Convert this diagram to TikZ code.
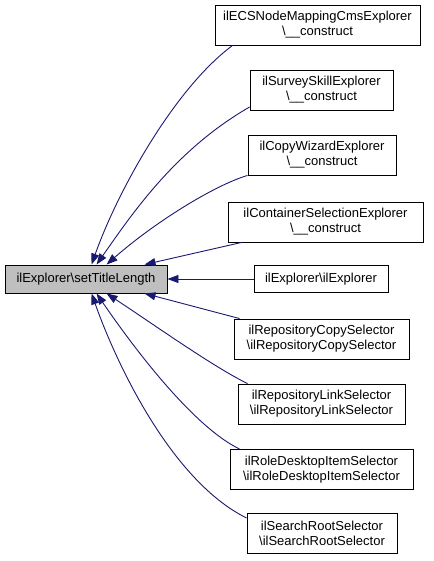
\documentclass[tikz,border=0pt]{standalone}
\usepackage{fontspec}
\setmainfont{Liberation Sans}
\usetikzlibrary{arrows.meta}
\definecolor{edgeblue}{HTML}{191970}
\definecolor{mainfill}{HTML}{BFBFBF}
\begin{document}
\begin{tikzpicture}[x=1pt,y=-1pt,
  box/.style={draw=black,line width=0.9pt,fill=white,inner sep=0pt,align=center,
    font=\fontsize{13}{15}\selectfont,minimum height=40pt},
  mainbox/.style={box,fill=mainfill,minimum height=28pt},
  edge/.style={draw=edgeblue,line width=0.9pt,-{Triangle[length=11pt,width=8pt]}}
]
\useasboundingbox (0,0) rectangle (433,561);

\node[mainbox,minimum width=162pt] (main) at (86,279) {ilExplorer\textbackslash setTitleLength};

\node[box,minimum width=205pt] (b1) at (317.5,25) {ilECSNodeMappingCmsExplorer\\\textbackslash\_\_construct};
\node[box,minimum width=143pt] (b2) at (321.5,90) {ilSurveySkillExplorer\\\textbackslash\_\_construct};
\node[box,minimum width=148pt] (b3) at (322,155) {ilCopyWizardExplorer\\\textbackslash\_\_construct};
\node[box,minimum width=195pt] (b4) at (325.5,222) {ilContainerSelectionExplorer\\\textbackslash\_\_construct};
\node[box,minimum width=134pt,minimum height=27pt] (b5) at (321,279) {ilExplorer\textbackslash ilExplorer};
\node[box,minimum width=175pt] (b6) at (321.5,339) {ilRepositoryCopySelector\\\textbackslash ilRepositoryCopySelector};
\node[box,minimum width=167pt] (b7) at (321.5,404) {ilRepositoryLinkSelector\\\textbackslash ilRepositoryLinkSelector};
\node[box,minimum width=183pt] (b8) at (321.5,469.5) {ilRoleDesktopItemSelector\\\textbackslash ilRoleDesktopItemSelector};
\node[box,minimum width=150pt] (b9) at (322,533) {ilSearchRootSelector\\\textbackslash ilSearchRootSelector};

\draw[edge] ([xshift=18pt]b1.south west) .. controls (175,88) and (118,190) .. ([xshift=87pt]main.north west);
\draw[edge] ([yshift=-17pt]b2.west) .. controls (175,150) and (132,214) .. ([xshift=92pt]main.north west);
\draw[edge] (b3.south west) .. controls (215,185) and (155,222) .. ([xshift=102pt]main.north west);
\draw[edge] ([xshift=14pt]b4.south west) -- ([xshift=140pt]main.north west);
\draw[edge] (b5.west) -- (main.east);
\draw[edge] ([xshift=6pt]b6.north west) -- ([xshift=140pt]main.south west);
\draw[edge] ([xshift=10pt]b7.north west) .. controls (215,368) and (150,322) .. ([xshift=102pt]main.south west);
\draw[edge] ([xshift=10pt]b8.north west) .. controls (190,425) and (127,338) .. ([xshift=92pt]main.south west);
\draw[edge] ([yshift=15pt]b9.west) .. controls (170,480) and (115,360) .. ([xshift=87pt]main.south west);
\end{tikzpicture}
\end{document}
